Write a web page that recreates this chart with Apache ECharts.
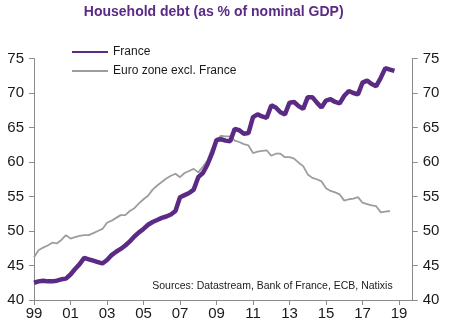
<!DOCTYPE html>
<html><head><meta charset="utf-8">
<script src="https://cdn.jsdelivr.net/npm/echarts@6/dist/echarts.min.js"></script>
<style>html,body{margin:0;padding:0;background:#fff}#c{width:452px;height:329px}</style>
</head><body><div id="c"></div>
<script>
const titleText = 'Household debt (as % of nominal GDP)';
const sourceText = 'Sources: Datastream, Bank of France, ECB, Natixis';
const seriesNames = ['France', 'Euro zone excl. France'];
const years = [1999,2000,2001,2002,2003,2004,2005,2006,2007,2008,2009,2010,2011,2012,2013,2014,2015,2016,2017,2018,2019];
const quarterNames = ['Q1','Q2','Q3','Q4'];
const tickLabels = ['99','01','03','05','07','09','11','13','15','17','19'];
const yTicks = [40,45,50,55,60,65,70,75];
// quarterly values, 1999Q1 onward
const france = [
  42.5,42.7,42.8,42.7, 42.7,42.8,43.0,43.1, 43.7,44.5,45.2,46.1, 45.9,45.7,45.5,45.3,
  45.8,46.5,47.0,47.4, 47.9,48.5,49.2,49.8, 50.3,50.9,51.3,51.6, 51.9,52.1,52.4,52.9,
  54.9,55.2,55.5,56.0, 57.8,58.4,59.6,61.2, 63.2,63.3,63.1,63.0, 64.8,64.6,64.1,64.2,
  66.5,66.9,66.6,66.4, 68.2,67.9,67.2,66.9, 68.6,68.7,68.1,67.7, 69.4,69.4,68.6,67.9,
  68.9,69.1,68.7,68.5, 69.6,70.3,70.0,69.8, 71.5,71.8,71.3,71.0, 72.2,73.6,73.4,73.2
];
const euroZone = [
  46.2,47.2,47.6,47.9, 48.3,48.2,48.7,49.4, 48.9,49.1,49.3,49.4, 49.4,49.7,50.0,50.3,
  51.2,51.5,51.9,52.3, 52.3,52.9,53.3,54.0, 54.6,55.1,56.0,56.6, 57.1,57.6,58.0,58.3,
  57.8,58.4,58.7,59.0, 58.5,59.3,60.2,61.9, 63.2,63.8,63.7,63.7, 63.1,62.9,62.6,62.4,
  61.3,61.5,61.6,61.7, 60.9,61.2,61.2,60.7, 60.7,60.5,59.9,59.4, 58.2,57.7,57.5,57.2,
  56.2,55.8,55.6,55.3, 54.4,54.6,54.7,54.9, 54.1,53.9,53.7,53.6, 52.7,52.8,52.9
];

const categories = [];
years.forEach(y => quarterNames.forEach(q => categories.push(y + q)));

const FONT = '"Liberation Sans", Arial, sans-serif';
const axisGray = '#8a8a8a';
const purple = '#5a2a85';
const gray = '#9d9d9d';
const showEvery8 = (i) => i % 8 === 0;

const yAxisBase = (pos) => ({
  type: 'value', position: pos, min: yTicks[0], max: yTicks[yTicks.length-1], interval: 5,
  splitLine: { show: false },
  axisLine: { show: true, lineStyle: { color: axisGray, width: 1 } },
  axisTick: { show: true, length: 5, lineStyle: { color: axisGray } },
  axisLabel: { color: '#1a1a1a', fontSize: 15, fontFamily: FONT, margin: 10 }
});

const chart = echarts.init(document.getElementById('c'));
chart.setOption({
  animation: false,
  backgroundColor: '#fff',
  grid: { left: 34, right: 39.3, top: 58.5, bottom: 29 },
  legend: {
    orient: 'vertical', left: 66, top: 41, itemWidth: 36, itemHeight: 14, itemGap: 7,
    itemStyle: { opacity: 0 },
    textStyle: { fontSize: 12, fontFamily: FONT, color: '#1a1a1a' },
    data: seriesNames
  },
  xAxis: {
    type: 'category', data: categories, boundaryGap: false,
    axisLine: { lineStyle: { color: axisGray, width: 1 } },
    axisTick: { show: true, length: 5, interval: showEvery8, lineStyle: { color: axisGray } },
    axisLabel: {
      interval: showEvery8, color: '#1a1a1a', fontSize: 15, fontFamily: FONT, margin: 6,
      formatter: (v, i) => tickLabels[i / 8]
    },
    splitLine: { show: false }
  },
  yAxis: [yAxisBase('left'), yAxisBase('right')],
  graphic: [
    { type: 'text', x: 213.7, y: 12, style: { text: titleText, fill: purple, font: 'bold 14px ' + FONT, textAlign: 'center', textVerticalAlign: 'middle' } },
    { type: 'text', x: 392.7, y: 286, style: { text: sourceText, fill: '#1a1a1a', font: '10.5px ' + FONT, textAlign: 'right', textVerticalAlign: 'middle' } }
  ],
  series: [
    { name: seriesNames[1], type: 'line', data: euroZone, symbol: 'none', yAxisIndex: 0,
      lineStyle: { color: gray, width: 1.8 }, itemStyle: { color: gray }, z: 2 },
    { name: seriesNames[0], type: 'line', data: france, symbol: 'none', yAxisIndex: 0,
      lineStyle: { color: purple, width: 4.5 }, itemStyle: { color: purple }, z: 3 }
  ]
});
</script></body></html>
